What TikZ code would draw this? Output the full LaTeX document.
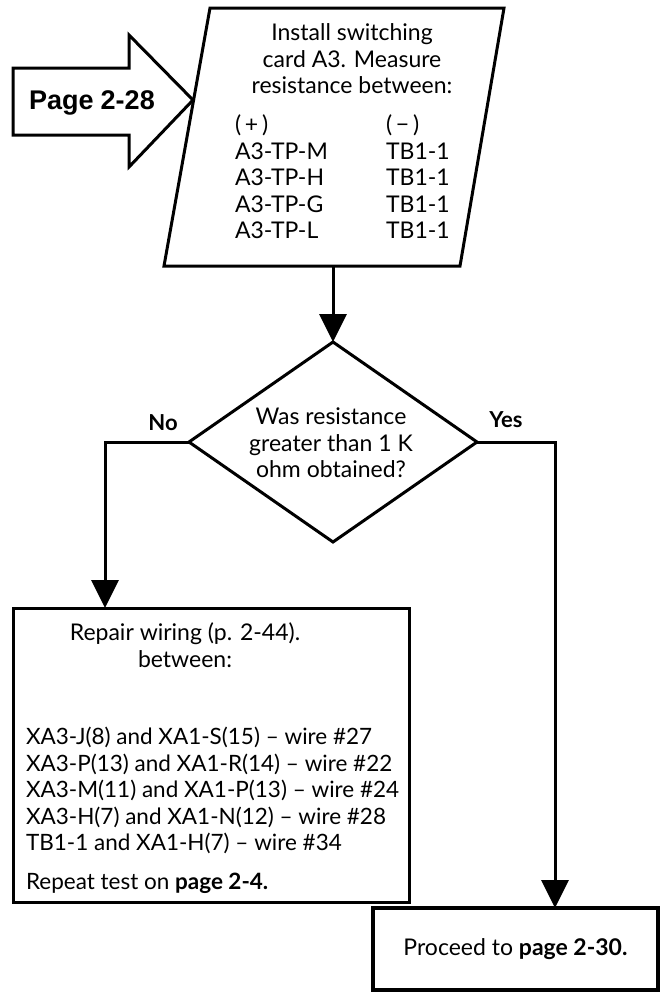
\documentclass[tikz,border=0pt]{standalone}
\usepackage{fontspec}
\setmainfont{Lato}
\newfontfamily\entryfont{Liberation Sans}
\usetikzlibrary{shapes.geometric,arrows.meta}
\begin{document}
\begin{tikzpicture}[x=1pt,y=-1pt,
  every node/.style={inner sep=0pt, outer sep=0pt},
  body/.style={font=\fontsize{23}{26.5}\selectfont},
  listtext/.style={font=\fontsize{22.5}{26.5}\selectfont},
  outline/.style={draw=black, line width=3pt, line join=miter},
  flow/.style={draw=black, line width=3pt, line join=miter,
    -{Triangle[length=28pt,width=27pt]}},
  answer/.style={font=\fontsize{22}{26}\selectfont\bfseries},
]
\useasboundingbox (0,0) rectangle (661,994);

% entry arrow from the previous page
\coordinate (e1) at (13,68);
\coordinate (e2) at (129,68);
\coordinate (e3) at (129,35);
\coordinate (e4) at (193,100);
\coordinate (e5) at (129,167);
\coordinate (e6) at (129,135);
\coordinate (e7) at (13,135);
\draw[outline] (e1) -- (e2) -- (e3) -- (e4) -- (e5) -- (e6) -- (e7) -- cycle;
\node[anchor=base, font=\entryfont\fontsize{27}{30}\selectfont\bfseries] (entry) at (92,109.5) {Page\kern-0.5pt{} 2-28};

% input/output step
\coordinate (pA) at (210,8);
\coordinate (pB) at (504,8);
\coordinate (pC) at (460,266);
\coordinate (pD) at (164,266);
\draw[outline] (pA) -- (pB) -- (pC) -- (pD) -- cycle;
\coordinate (pout) at (333,266);
\node[body, anchor=base] (install) at (352,40.5)
  {\begin{tabular}[t]{@{}c@{}}Install switching\\ card A3. Measure\\ resistance between:\end{tabular}};
\node[body, anchor=base west] (points) at (235,132.5)
  {\begin{tabular}[t]{@{}p{151pt}@{}l@{}}
   (\,+\,) & (\,−\,)\\
   A3-TP-M & TB1-1\\
   A3-TP-H & TB1-1\\
   A3-TP-G & TB1-1\\
   A3-TP-L & TB1-1
   \end{tabular}};

% decision
\node[diamond, draw=black, line width=3pt, minimum width=288pt, minimum height=200pt] (ask) at (333,442) {};
\node[body, anchor=base] (asktext) at (331,424.5)
  {\begin{tabular}[t]{@{}c@{}}Was resistance\\ greater than 1 K\\ ohm obtained?\end{tabular}};
\node[answer, anchor=base] (no) at (163,430.5) {No};
\node[answer, anchor=base] (yes) at (506,427.5) {Yes};

% repair step
\node[draw=black, line width=3pt, minimum width=396pt, minimum height=294pt] (repair) at (211,755) {};
\node[body, anchor=base] (repairhead) at (185,640.5)
  {\begin{tabular}[t]{@{}c@{}}Repair wiring (p. 2-44).\\ between:\end{tabular}};
\node[listtext, anchor=base west] (wires) at (26,744.5)
  {\begin{tabular}[t]{@{}l@{}}
   XA3-J(8) and XA1-S(15) – wire \#27\\
   XA3-P(13) and XA1-R(14) – wire \#22\\
   XA3-M(11) and XA1-P(13) – wire \#24\\
   XA3-H(7) and XA1-N(12) – wire \#28\\
   TB1-1 and XA1-H(7) – wire \#34\\[12.5pt]
   Repeat test on \textbf{page 2-4.}
   \end{tabular}};

% exit step
\node[draw=black, line width=4.5pt, minimum width=285pt, minimum height=82pt, body] (proceed) at (515.5,949)
  {Proceed to \textbf{page 2-30.}};

% connectors
\coordinate (nocorner) at (105,442);
\coordinate (yescorner) at (555,442);
\draw[flow] (pout) -- (ask.north);
\draw[flow] (ask.west) -- (nocorner) -- (nocorner |- repair.north);
\draw[flow] (ask.east) -- (yescorner) -- (yescorner |- proceed.north);
\end{tikzpicture}
\end{document}
